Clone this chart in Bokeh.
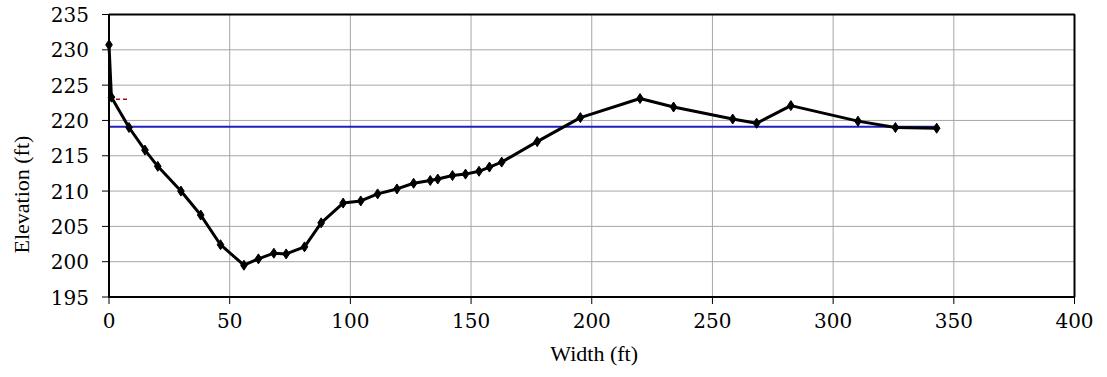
import math
from bokeh.plotting import figure
from bokeh.models import Range1d
from bokeh.core.properties import value
from bokeh.embed import file_html
from bokeh.resources import INLINE

# Channel cross-section (station, elevation)
width_ft = [0, 1, 8.3, 14.9, 20.2, 29.8, 38.0, 46.2, 55.9, 61.9, 68.3, 73.4, 81.0, 87.9,
            97.0, 104.3, 111.3, 119.3, 126.2, 133.1, 136.2, 142.3, 147.7, 153.3, 157.6,
            162.7, 177.4, 195.3, 220.0, 233.9, 258.4, 268.3, 282.5, 310.3, 325.8, 342.9]
elevation_ft = [230.7, 223.3, 219.0, 215.8, 213.5, 210.0, 206.6, 202.4, 199.5, 200.4, 201.2,
                201.1, 202.1, 205.5, 208.3, 208.6, 209.6, 210.3, 211.1, 211.5, 211.7, 212.2,
                212.4, 212.8, 213.4, 214.1, 217.0, 220.4, 223.1, 221.9, 220.2, 219.6, 222.1,
                219.9, 219.0, 218.9]

# Water surface (blue) and bank marker (red dashed)
ws_x = [0, 342.9]
ws_y = [219.1, 219.1]
bank_x = [0, 7.5]
bank_y = [223.0, 223.0]

x_ticks = [0, 50, 100, 150, 200, 250, 300, 350, 400]
y_ticks = [195, 200, 205, 210, 215, 220, 225, 230, 235]
x_tick_labels = [str(v) for v in x_ticks]
y_tick_labels = [str(v) for v in y_ticks]
x_title = "Width (ft)"
y_title = "Elevation (ft)"

# ---- layout (pixels) ----
W, H = 1107, 377
FRAME_L, FRAME_R, FRAME_T, FRAME_B = 108.5, 1074.0, 14.0, 296.5
TICK_PX = 7
FONT = "'Liberation Serif', 'DejaVu Serif', 'Times New Roman', serif"
TICK_FONT = "'DejaVu Serif', 'Liberation Serif', serif"
FS = "22px"
TICK_FS = "20px"

x0, x1 = x_ticks[0], x_ticks[-1]
y0, y1 = y_ticks[0], y_ticks[-1]
kx = (FRAME_R - FRAME_L) / (x1 - x0)
ky = (FRAME_B - FRAME_T) / (y1 - y0)
x_range = Range1d(x0 - FRAME_L / kx, x1 + (W - FRAME_R) / kx)
y_range = Range1d(y0 - (H - FRAME_B) / ky, y1 + FRAME_T / ky)

p = figure(width=W, height=H, output_backend="svg", toolbar_location=None,
           x_range=x_range, y_range=y_range,
           min_border=0, min_border_left=0, min_border_right=0,
           min_border_top=0, min_border_bottom=0)
p.axis.visible = False
p.grid.visible = False
p.outline_line_color = None
p.background_fill_color = "white"
p.border_fill_color = "white"

# grid lines
p.segment(x0=x_ticks, x1=x_ticks, y0=[y0] * len(x_ticks), y1=[y1] * len(x_ticks),
          line_color="#a6a6a6", line_width=1)
p.segment(x0=[x0] * len(y_ticks), x1=[x1] * len(y_ticks), y0=y_ticks, y1=y_ticks,
          line_color="#a6a6a6", line_width=1)

# tick marks (outside)
tdx = TICK_PX / kx
tdy = TICK_PX / ky
p.segment(x0=x_ticks, x1=x_ticks, y0=[y0] * len(x_ticks), y1=[y0 - tdy] * len(x_ticks),
          line_color="black", line_width=1)
p.segment(x0=[x0] * len(y_ticks), x1=[x0 - tdx] * len(y_ticks), y0=y_ticks, y1=y_ticks,
          line_color="black", line_width=1)

# data
p.line(ws_x, ws_y, line_color="#1f1fbf", line_width=2)
p.line(bank_x, bank_y, line_color="#a01010", line_width=1.5, line_dash="4 3")
p.line(width_ft, elevation_ft, line_color="black", line_width=3)
p.scatter(width_ft, elevation_ft, marker="diamond", size=10, fill_color="black", line_color="black")

# plot frame
p.quad(left=[x0], right=[x1], bottom=[y0], top=[y1], fill_color=None,
       line_color="black", line_width=2)

# tick labels
p.text(x=x_ticks, y=[y0] * len(x_ticks), text=x_tick_labels, x_offset=0, y_offset=16,
       text_align="center", text_baseline="top", text_font=value(TICK_FONT),
       text_font_size=value(TICK_FS), text_color="black")
p.text(x=[x0] * len(y_ticks), y=y_ticks, text=y_tick_labels, x_offset=-20, y_offset=0,
       text_align="right", text_baseline="middle", text_font=value(TICK_FONT),
       text_font_size=value(TICK_FS), text_color="black")

# axis titles
p.text(x=[(x0 + x1) / 2 + 1], y=[y0], text=[x_title], y_offset=44,
       text_align="center", text_baseline="top", text_font=value(FONT),
       text_font_size=value(FS), text_color="black")
p.text(x=[x0], y=[209.5], text=[y_title], x_offset=-88, angle=math.pi / 2,
       text_align="center", text_baseline="middle", text_font=value(FONT),
       text_font_size=value(FS), text_color="black")

open("out.html", "w").write(file_html(p, INLINE))
